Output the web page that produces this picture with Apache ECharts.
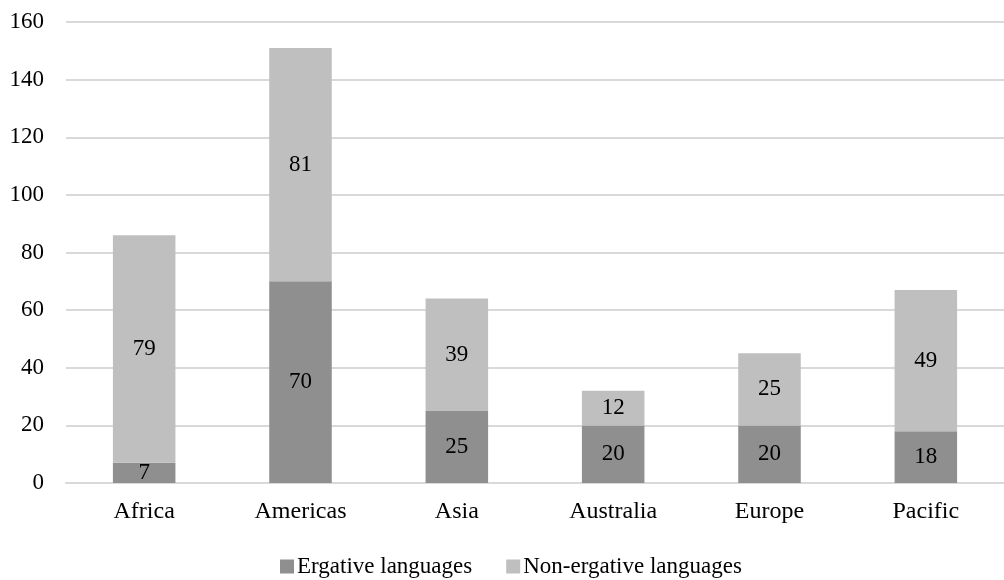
<!DOCTYPE html>
<html>
<head>
<meta charset="utf-8">
<script src="https://cdn.jsdelivr.net/npm/echarts@6/dist/echarts.min.js"></script>
<style>
  html, body { margin: 0; padding: 0; background: #fff; }
  #chart { width: 1004px; height: 580px; }
</style>
</head>
<body>
<div id="chart"></div>
<script>
// Languages by macro-area, split into ergative and non-ergative
const regions = ['Africa', 'Americas', 'Asia', 'Australia', 'Europe', 'Pacific'];
const ergative = [7, 70, 25, 20, 20, 18];
const nonErgative = [79, 81, 39, 12, 25, 49];
const seriesNames = ['Ergative languages', 'Non-ergative languages'];

const FONT = '"Liberation Serif", "Times New Roman", serif';

const chart = echarts.init(document.getElementById('chart'));

const labelStyle = {
  show: true,
  position: 'inside',
  color: '#000',
  fontFamily: FONT,
  fontSize: 23
};

chart.setOption({
  animation: false,
  textStyle: { fontFamily: FONT },
  grid: { left: 66, right: -13, top: 22, bottom: 97 },
  legend: {
    bottom: -3,
    left: 275,
    itemWidth: 14,
    itemHeight: 14,
    itemGap: 34,
    icon: 'rect',
    textStyle: { fontFamily: FONT, fontSize: 23, color: '#000', padding: [0, 0, 0, -2] },
    data: seriesNames
  },
  xAxis: {
    type: 'category',
    data: regions,
    axisLine: { show: true, lineStyle: { color: '#d9d9d9', width: 2 } },
    axisTick: { show: false },
    axisLabel: { color: '#000', fontFamily: FONT, fontSize: 24, margin: 17 }
  },
  yAxis: {
    type: 'value',
    min: 0,
    max: 160,
    interval: 20,
    axisLine: { show: false },
    axisTick: { show: false },
    splitLine: { lineStyle: { color: '#d9d9d9', width: 2 } },
    axisLabel: { color: '#000', fontFamily: FONT, fontSize: 23, margin: 22 }
  },
  series: [
    {
      name: seriesNames[0],
      type: 'bar',
      stack: 'total',
      barWidth: '40%',
      data: ergative,
      itemStyle: { color: '#8f8f8f' },
      label: labelStyle
    },
    {
      name: seriesNames[1],
      type: 'bar',
      stack: 'total',
      barWidth: '40%',
      data: nonErgative,
      itemStyle: { color: '#bfbfbf' },
      label: labelStyle
    }
  ]
});
</script>
</body>
</html>
